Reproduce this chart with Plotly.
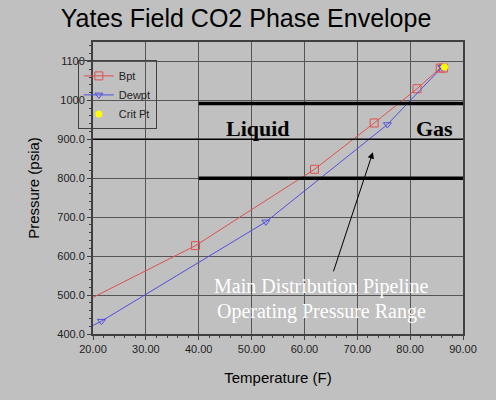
import plotly.graph_objects as go

# Bubble-point curve
bpt_x = [20.0, 39.4, 61.9, 73.2, 81.3, 85.7, 86.3]
bpt_y = [494, 627, 823, 942, 1030, 1083, 1083]
bpt_marker = [False, True, True, True, True, True, True]

# Dew-point curve
dew_x = [20.0, 21.6, 52.7, 75.7, 86.0]
dew_y = [422, 433, 688, 938, 1085]
dew_marker = [False, True, True, True, True]

# Critical point
crit_x = [86.5]
crit_y = [1086]

x_ticks = [20, 30, 40, 50, 60, 70, 80, 90]
x_ticktext = ["20.00", "30.00", "40.00", "50.00", "60.00", "70.00", "80.00", "90.00"]
y_ticks = [400, 500, 600, 700, 800, 900, 1000, 1100]
y_ticktext = ["400.0", "500.0", "600.0", "700.0", "800.0", "900.0", "1000", "1100"]

# Operating pressure range lines
range_low = 800
range_mid = 900
range_high = 992

RED = "#e05050"
BLUE = "#5050e0"
BG = "#c0c0c0"

fig = go.Figure()

# actual curves
fig.add_trace(go.Scatter(x=bpt_x, y=bpt_y, mode="lines", line=dict(color=RED, width=1),
                         showlegend=False, hoverinfo="skip"))
fig.add_trace(go.Scatter(x=[x for x, m in zip(bpt_x, bpt_marker) if m],
                         y=[y for y, m in zip(bpt_y, bpt_marker) if m],
                         mode="markers",
                         marker=dict(symbol="square-open", size=8, color=RED, line=dict(width=1)),
                         showlegend=False))
fig.add_trace(go.Scatter(x=dew_x, y=dew_y, mode="lines", line=dict(color=BLUE, width=1),
                         showlegend=False, hoverinfo="skip"))
fig.add_trace(go.Scatter(x=[x for x, m in zip(dew_x, dew_marker) if m],
                         y=[y for y, m in zip(dew_y, dew_marker) if m],
                         mode="markers",
                         marker=dict(symbol="triangle-down-open", size=7, color=BLUE, line=dict(width=1)),
                         showlegend=False))
fig.add_trace(go.Scatter(x=crit_x, y=crit_y, mode="markers",
                         marker=dict(symbol="circle", size=7, color="#ffff00"),
                         showlegend=False))

# legend entries
fig.add_trace(go.Scatter(x=[None], y=[None], mode="lines+markers", name="Bpt",
                         line=dict(color=RED, width=1),
                         marker=dict(symbol="square-open", size=8, color=RED)))
fig.add_trace(go.Scatter(x=[None], y=[None], mode="lines+markers", name="Dewpt",
                         line=dict(color=BLUE, width=1),
                         marker=dict(symbol="triangle-down-open", size=7, color=BLUE)))
fig.add_trace(go.Scatter(x=[None], y=[None], mode="markers", name="Crit Pt",
                         marker=dict(symbol="circle", size=7, color="#ffff00")))

shapes = [
    dict(type="line", xref="x", yref="y", x0=40, x1=90, y0=range_high, y1=range_high,
         line=dict(color="black", width=3.5)),
    dict(type="line", xref="x", yref="y", x0=40, x1=90, y0=range_low, y1=range_low,
         line=dict(color="black", width=3.5)),
    dict(type="line", xref="x", yref="y", x0=20, x1=90, y0=range_mid, y1=range_mid,
         line=dict(color="black", width=1.5)),
]

annotations = [
    dict(x=51.2, y=927, xref="x", yref="y", text="<b>Liquid</b>", showarrow=False,
         font=dict(family="Liberation Serif", size=22, color="black")),
    dict(x=84.6, y=927, xref="x", yref="y", text="<b>Gas</b>", showarrow=False,
         font=dict(family="Liberation Serif", size=22, color="black")),
    dict(x=63.2, y=521, xref="x", yref="y",
         text="Main Distribution Pipeline", showarrow=False,
         font=dict(family="Liberation Serif", size=20, color="white")),
    dict(x=63.2, y=459, xref="x", yref="y",
         text="Operating Pressure Range", showarrow=False,
         font=dict(family="Liberation Serif", size=20, color="white")),
    dict(x=72.95, y=867, ax=65.4, ay=557, xref="x", yref="y", axref="x", ayref="y",
         text="", showarrow=True, arrowhead=2, arrowsize=1.3, arrowwidth=1, arrowcolor="black"),
]

fig.update_layout(
    width=496, height=400,
    margin=dict(l=93, r=33, t=42, b=66, autoexpand=False),
    paper_bgcolor=BG, plot_bgcolor=BG,
    title=dict(text="Yates Field CO2 Phase Envelope", x=0.496, xanchor="center",
               y=0.955, yanchor="middle",
               font=dict(family="Liberation Sans", size=25, color="black")),
    font=dict(family="Liberation Sans", size=11, color="#222222"),
    showlegend=True,
    legend=dict(x=-0.041, y=0.937, xanchor="left", yanchor="top",
                bgcolor="rgba(0,0,0,0)", bordercolor="#404040", borderwidth=1,
                font=dict(family="Liberation Sans", size=11, color="#222222"),
                tracegroupgap=0, itemwidth=30),
    shapes=shapes,
    annotations=annotations,
)

fig.update_xaxes(range=[20, 90], tickvals=x_ticks, ticktext=x_ticktext,
                 showgrid=True, gridcolor="#555555", gridwidth=1,
                 showline=True, linecolor="#404040", linewidth=2, mirror=True,
                 ticks="outside", ticklen=4, tickcolor="#404040",
                 minor=dict(dtick=2, ticks="outside", ticklen=2, tickcolor="#404040", showgrid=False),
                 zeroline=False, automargin=False,
                 title=dict(text="Temperature (F)", font=dict(family="Liberation Sans", size=15, color="black"),
                            standoff=18))
fig.update_yaxes(range=[400, 1150], tickvals=y_ticks, ticktext=y_ticktext,
                 showgrid=True, gridcolor="#555555", gridwidth=1,
                 showline=True, linecolor="#404040", linewidth=2, mirror=True,
                 ticks="outside", ticklen=4, tickcolor="#404040",
                 minor=dict(dtick=20, ticks="outside", ticklen=2, tickcolor="#404040", showgrid=False),
                 zeroline=False, automargin=False,
                 title=dict(text="Pressure (psia)", font=dict(family="Liberation Sans", size=15, color="black"),
                            standoff=14))

fig.write_html("out.html", config={"displayModeBar": False},
               post_script="document.body.style.margin='0';")
